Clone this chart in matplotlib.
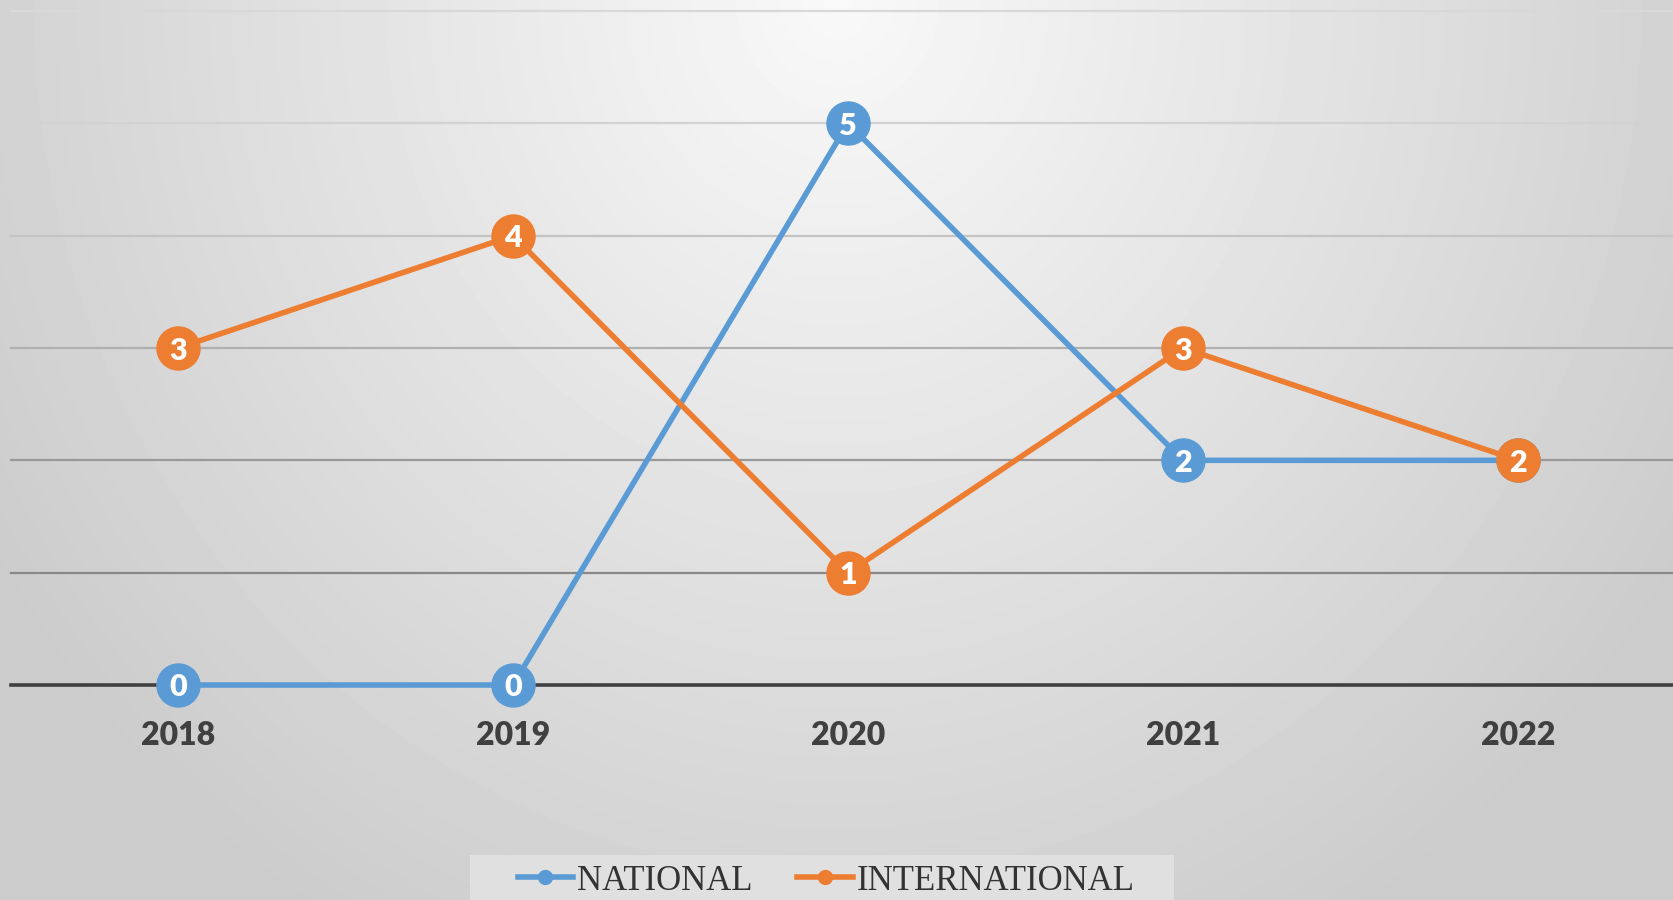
import numpy as np
import matplotlib
matplotlib.use("Agg")
import matplotlib.pyplot as plt
from matplotlib.patches import Rectangle

years = [2018, 2019, 2020, 2021, 2022]
national = [0, 0, 5, 2, 2]
international = [3, 4, 1, 3, 2]
series_names = ["NATIONAL", "INTERNATIONAL"]
colors = ["#5B9BD5", "#ED7D31"]
grid_values = [1, 2, 3, 4, 5, 6]
grid_colors = ["#888888", "#999999", "#b0b0b0", "#c4c4c4", "#d2d2d2", "#d8d8d8"]

W, H = 1674, 900
fig = plt.figure(figsize=(W / 100, H / 100), dpi=100)

# background radial gradient
bg = fig.add_axes([0, 0, 1, 1], zorder=-10)
yy, xx = np.mgrid[0:H, 0:W]
r = np.sqrt(((xx - 837) / 900.0) ** 2 + ((yy - 0) / 980.0) ** 2)
v = np.clip(0.975 - 0.16 * r, 0.80, 1.0)
bg.imshow(v, cmap="gray", vmin=0, vmax=1, aspect="auto", interpolation="bilinear")
bg.set_axis_off()

# legend box
fig.patches.append(Rectangle((470 / W, 0), (1174 - 470) / W, (900 - 855) / H,
                             transform=fig.transFigure, facecolor="#e0e0e0",
                             edgecolor="none", zorder=-5))

ax = fig.add_axes([11 / W, (H - 685) / H, (W - 11) / W, 674 / H])
ax.patch.set_alpha(0)
ax.set_xlim(2018 - 167 / 335, 2018 + (W - 178) / 335)
ax.set_ylim(0, 6)
for s in ax.spines.values():
    s.set_visible(False)

for gv, gc in zip(grid_values, grid_colors):
    ax.axhline(gv, color=gc, lw=1.6, zorder=1, clip_on=False)
ax.axhline(0, color="#404040", lw=2.6, zorder=2, clip_on=False)

handles = []
for i, (vals, c, name) in enumerate(zip([national, international], colors, series_names)):
    ax.plot(years, vals, color=c, lw=4.0, zorder=3 + 2 * i, solid_capstyle="round", clip_on=False)
    ax.plot(years, vals, ls="none", marker="o", ms=31, color=c, mec=c, zorder=3 + 2 * i, clip_on=False)
    for x, y in zip(years, vals):
        ax.text(x, y, str(y), color="white", fontsize=22, fontweight="heavy", family="Lato",
                ha="center", va="center_baseline", zorder=4 + 2 * i, clip_on=False)
    h, = ax.plot([], [], color=c, lw=4.0, marker="o", ms=10, label=name)
    handles.append(h)

ax.set_yticks([])
ax.set_xticks(years)
ax.set_xticklabels([str(y) for y in years], fontsize=23, fontweight="heavy", family="Lato", color="#404040")
ax.tick_params(axis="x", length=0, pad=26)

fig.legend(handles=handles, loc="center", bbox_to_anchor=(826 / W, 1 - 881 / H), ncol=2,
           frameon=False, prop={"family": "Liberation Serif", "size": 25},
           handlelength=1.6, handletextpad=0.1, columnspacing=1.3, labelcolor="#333333")

fig.savefig("out.png", dpi=100)
